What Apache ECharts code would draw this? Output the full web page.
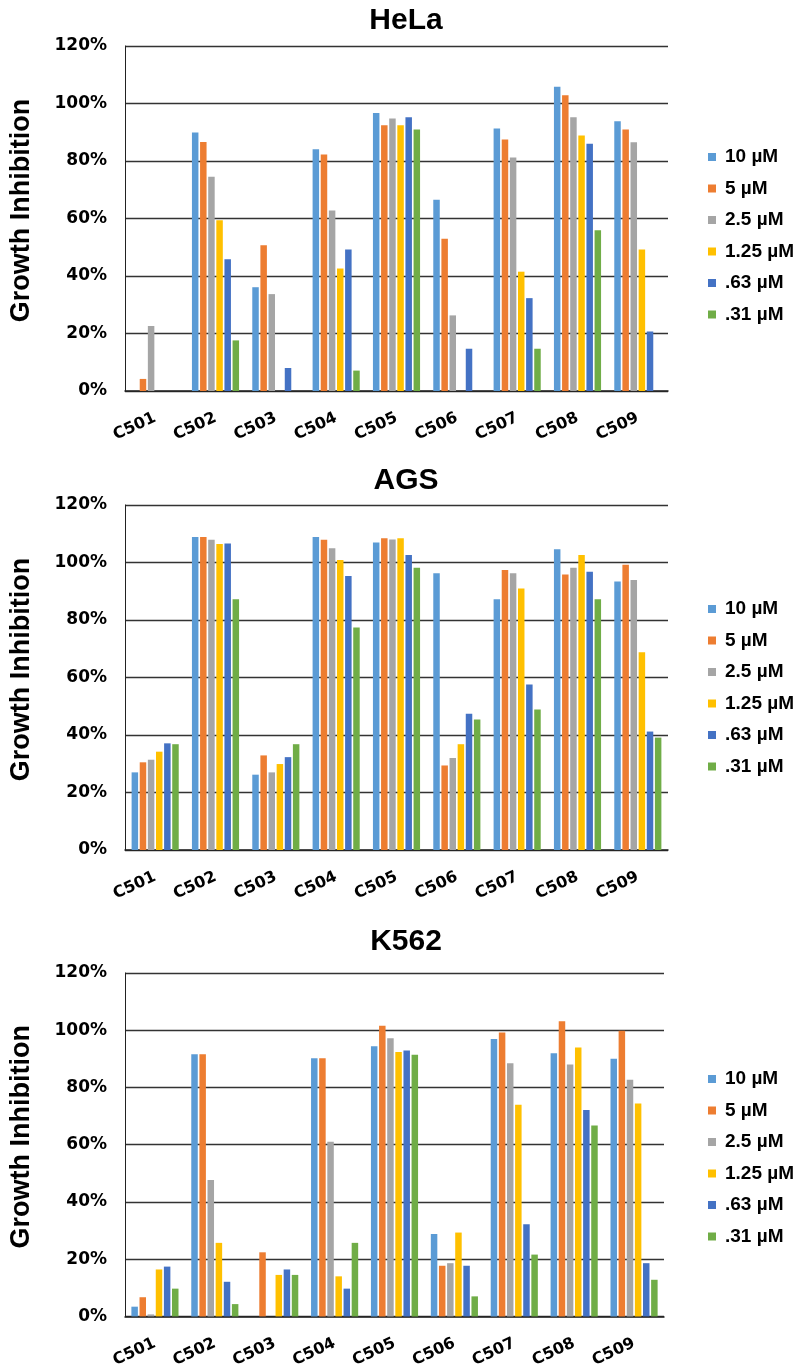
<!DOCTYPE html>
<html>
<head>
<meta charset="utf-8">
<script src="https://cdn.jsdelivr.net/npm/echarts@6/dist/echarts.min.js"></script>
<style>html,body{margin:0;padding:0;background:#fff}#c{width:800px;height:1370px}</style>
</head>
<body>
<div id="c"></div>
<script>
const categories = ['C501','C502','C503','C504','C505','C506','C507','C508','C509'];
const concentrations = ['10 µM','5 µM','2.5 µM','1.25 µM','.63 µM','.31 µM'];
const panelTitles = ['HeLa','AGS','K562'];
const yTicks = [0, 20, 40, 60, 80, 100, 120];

// HeLa
const hela_10 = [0, 89.9, 36.1, 84.1, 96.7, 66.5, 91.3, 105.8, 93.8];
const hela_5 = [4.2, 86.6, 50.7, 82.3, 92.4, 53.0, 87.5, 102.9, 91.0];
const hela_2_5 = [22.6, 74.5, 33.7, 62.8, 94.8, 26.3, 81.2, 95.2, 86.5];
const hela_1_25 = [0, 59.4, 0, 42.6, 92.4, 0, 41.5, 88.9, 49.2];
const hela_0_63 = [0, 45.8, 8.0, 49.2, 95.2, 14.7, 32.3, 86.0, 20.7];
const hela_0_31 = [0, 17.6, 0, 7.1, 91.0, 0, 14.7, 55.9, 0];

// AGS
const ags_10 = [27.0, 108.9, 26.2, 108.9, 107.0, 96.3, 87.2, 104.6, 93.4];
const ags_5 = [30.5, 108.9, 32.9, 107.9, 108.4, 29.4, 97.4, 95.8, 99.2];
const ags_2_5 = [31.4, 107.9, 27.0, 105.0, 108.0, 32.0, 96.3, 98.2, 93.9];
const ags_1_25 = [34.2, 106.4, 29.9, 100.9, 108.4, 36.8, 91.0, 102.6, 68.8];
const ags_0_63 = [37.1, 106.6, 32.3, 95.3, 102.6, 47.4, 57.6, 96.8, 41.2];
const ags_0_31 = [36.8, 87.2, 36.8, 77.4, 98.2, 45.4, 48.9, 87.2, 39.1];

// K562
const k562_10 = [3.4, 91.6, 0, 90.2, 94.4, 28.8, 96.9, 92.0, 90.0];
const k562_5 = [6.7, 91.6, 22.4, 90.2, 101.6, 17.7, 99.2, 103.1, 99.8];
const k562_2_5 = [0.7, 47.7, 0, 61.0, 97.2, 18.6, 88.5, 88.0, 82.7];
const k562_1_25 = [16.4, 25.7, 14.5, 14.0, 92.4, 29.3, 74.0, 94.0, 74.4];
const k562_0_63 = [17.4, 12.1, 16.4, 9.7, 92.9, 17.7, 32.2, 72.1, 18.6];
const k562_0_31 = [9.7, 4.3, 14.5, 25.7, 91.4, 7.0, 21.6, 66.7, 12.8];

const panelSeries = [
  [hela_10, hela_5, hela_2_5, hela_1_25, hela_0_63, hela_0_31],
  [ags_10, ags_5, ags_2_5, ags_1_25, ags_0_63, ags_0_31],
  [k562_10, k562_5, k562_2_5, k562_1_25, k562_0_63, k562_0_31]
];

const colors = ['#5B9BD5', '#ED7D31', '#A5A5A5', '#FFC000', '#4472C4', '#70AD47'];
const SANS = '"Liberation Sans", Arial, sans-serif';
const WIDE = '"DejaVu Sans", sans-serif';

const grids = [
  {left: 119, width: 549, top: 46, height: 345},
  {left: 119, width: 549, top: 505, height: 345},
  {left: 115, width: 549, top: 973, height: 344}
];
const titleTops = [1, 461, 922];
const legendTops = [142.5, 594.5, 1064.5];

const option = {
  backgroundColor: '#ffffff',
  animation: false,
  color: colors,
  title: panelTitles.map((t, i) => ({
    text: t,
    left: 401,
    textAlign: 'center',
    top: titleTops[i],
    textStyle: {fontFamily: SANS, fontWeight: 'bold', fontSize: 30, color: '#000'}
  })),
  legend: legendTops.map((lt, i) => ({
    orient: 'vertical',
    left: 703,
    top: lt,
    data: concentrations,
    icon: 'rect',
    itemWidth: 8,
    itemHeight: 8,
    itemGap: 12.5,
    selectedMode: false,
    textStyle: {fontFamily: SANS, fontWeight: 'bold', fontSize: 19, color: '#000', padding: [0, 0, 0, 4]}
  })),
  grid: grids.map(g => Object.assign({containLabel: false}, g)),
  xAxis: grids.map((g, i) => ({
    type: 'category',
    gridIndex: i,
    data: categories,
    axisLine: {show: true, lineStyle: {color: '#222', width: 1.5}},
    axisTick: {show: false},
    axisLabel: {rotate: 25, margin: 26, interval: 0, fontFamily: WIDE, fontWeight: 'bold', fontSize: 16, color: '#000'}
  })),
  yAxis: grids.map((g, i) => ({
    type: 'value',
    gridIndex: i,
    min: yTicks[0],
    max: yTicks[yTicks.length - 1],
    interval: yTicks[1] - yTicks[0],
    name: 'Growth Inhibition',
    nameLocation: 'middle',
    nameGap: 90,
    nameTextStyle: {fontFamily: SANS, fontWeight: 'bold', fontSize: 27, color: '#000', padding: [0, 0, 0, 16]},
    axisLine: {show: true, lineStyle: {color: '#222', width: 1}},
    axisTick: {show: false},
    axisLabel: {margin: 18, formatter: '{value}%', fontFamily: WIDE, fontWeight: 'bold', fontSize: 17, color: '#000'},
    splitLine: {show: true, lineStyle: {color: '#333', width: 1.4}}
  })),
  series: []
};

panelSeries.forEach((arrs, p) => {
  arrs.forEach((vals, k) => {
    option.series.push({
      type: 'bar',
      name: concentrations[k],
      xAxisIndex: p,
      yAxisIndex: p,
      data: vals,
      barWidth: 6.5,
      barGap: '25%',
      itemStyle: {color: colors[k]}
    });
  });
});

const chart = echarts.init(document.getElementById('c'), null, {renderer: 'canvas'});
chart.setOption(option);
</script>
</body>
</html>
